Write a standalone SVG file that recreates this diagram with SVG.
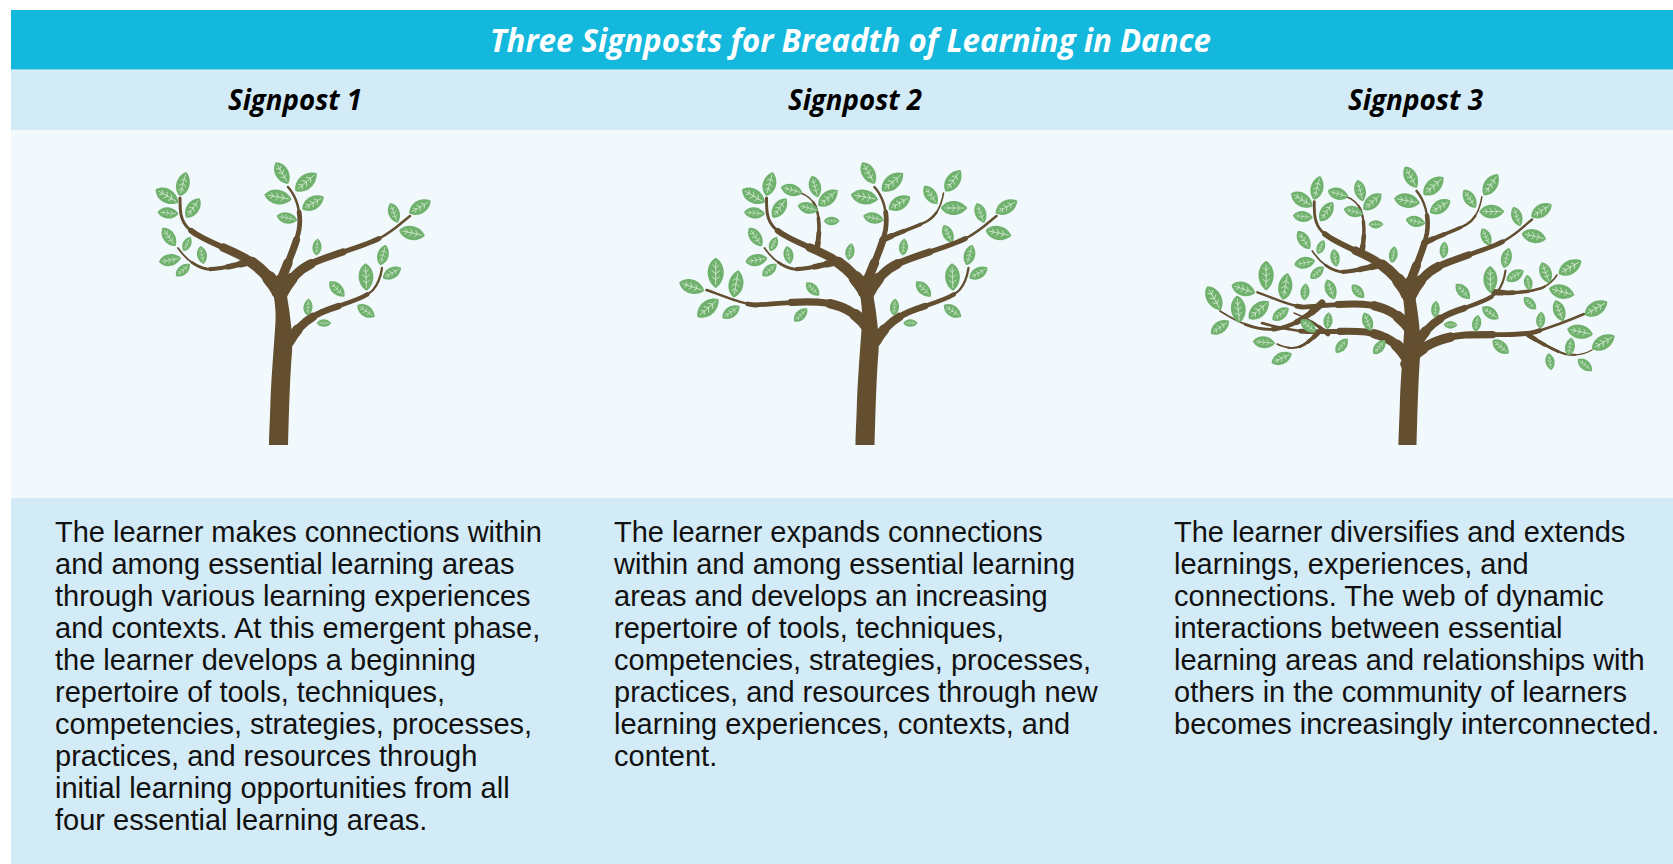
<svg xmlns="http://www.w3.org/2000/svg" xmlns:xlink="http://www.w3.org/1999/xlink" width="1673" height="864" viewBox="0 0 1673 864">
<style>
.body{font-family:"Liberation Sans",Arial,sans-serif;font-size:29px;fill:#111}
.head{font-family:"Open Sans","Noto Sans",sans-serif;font-weight:700;font-style:italic}
.br{fill:none;stroke:#634e30;stroke-linecap:round;stroke-linejoin:round}
.trunk{fill:#634e30}
.d75{stroke-dasharray:75 300}
.d50{stroke-dasharray:50 300}
.d28{stroke-dasharray:28 300}
.d12{stroke-dasharray:12 300}
</style>
<defs>
  <g id="lf" transform="scale(1.1)">
    <path d="M-12,0 C-7,-8.5 6,-8.5 12,0 C6,8.5 -7,8.5 -12,0Z" fill="#6fb16d"/>
    <path d="M-9,0 L9.5,0 M-6.5,-2.6 L-4,0 L-6.5,2.6 M-2,-3.3 L0.5,0 L-2,3.3 M2.8,-3 L5.2,0 L2.8,3" fill="none" stroke="#d6ecd3" stroke-width="0.7"/>
  </g>
  <path id="b1" pathLength="100" d="M279,292 C272,280 262,268 245,258 C228,248 200,240 188,228 C180,220 180,210 180,198"/>
  <path id="b1a" pathLength="100" d="M250,262 C235,265 218,270 207,269 C195,267 185,258 178,248"/>
  <path id="b2" pathLength="100" d="M277,292 C283,272 295,250 299,230 C302,212 296,196 288,187"/>
  <path id="b3" pathLength="100" d="M282,294 C290,278 300,268 315,262 C340,252 365,246 380,238 C395,230 402,222 410,216"/>
  <path id="b4" pathLength="100" d="M289,342 C298,326 310,316 330,309 C350,302 365,298 373,290 C379,283 381,275 382,268"/>
  <path id="e1" pathLength="100" d="M283,330 C272,314 258,306 240,303 C218,300 188,304 169,305 C153,304 138,296 120,290"/>
  <path id="e2" pathLength="100" d="M230,251 C233,236 234,219 229,206 C225,198 220,195 214,193"/>
  <path id="e3" pathLength="100" d="M296,240 C310,233 328,228 341,221 C351,215 355,205 357,193"/>
  <path id="x1" pathLength="100" d="M1322,303 C1310,315 1295,326 1276,329 C1258,331 1240,324 1220,311"/>
  <path id="x2" pathLength="100" d="M1408,360 C1400,346 1390,336 1366,332 C1345,330 1320,333 1300,331 C1285,329 1272,326 1262,323"/>
  <path id="x3" pathLength="100" d="M1328,334 C1318,325 1305,317 1294,313"/>
  <path id="x4" pathLength="100" d="M1318,333 C1308,343 1300,349 1290,348 C1285,347 1281,346 1277,344"/>
  <path id="x5" pathLength="100" d="M1494,292 C1510,294 1530,292 1542,288 C1550,284 1554,280 1557,275"/>
  <path id="x6" pathLength="100" d="M1406,364 C1420,346 1440,337 1465,335 C1495,334 1520,336 1535,332 C1555,326 1570,320 1584,314"/>
  <path id="x7" pathLength="100" d="M1528,335 C1540,342 1552,350 1565,354 C1575,356 1585,354 1592,350"/>

  <g id="core">
    <path class="trunk" d="M269,445 L288,445 C289,410 290,375 292,352 C293,338 291,325 289.5,312 L287,296 L281,287 L275,287 L273,292 C275,302 276,312 275.5,322 C274,345 271.5,375 270.5,400 C270,420 269,435 269,445 Z"/>
    <g class="br">
      <use href="#b1" stroke-width="3"/><use href="#b1" class="d75" stroke-width="5.8"/><use href="#b1" class="d50" stroke-width="8.6"/><use href="#b1" class="d28" stroke-width="11.4"/><use href="#b1" class="d12" stroke-width="14"/>
      <use href="#b1a" stroke-width="1.8"/><use href="#b1a" class="d75" stroke-width="2.9"/><use href="#b1a" class="d50" stroke-width="4.3"/><use href="#b1a" class="d28" stroke-width="5.7"/><use href="#b1a" class="d12" stroke-width="7"/>
      <use href="#b2" stroke-width="2.5"/><use href="#b2" class="d75" stroke-width="4.8"/><use href="#b2" class="d50" stroke-width="7.1"/><use href="#b2" class="d28" stroke-width="9.4"/><use href="#b2" class="d12" stroke-width="11.5"/>
      <use href="#b3" stroke-width="2.5"/><use href="#b3" class="d75" stroke-width="4.8"/><use href="#b3" class="d50" stroke-width="7.1"/><use href="#b3" class="d28" stroke-width="9.4"/><use href="#b3" class="d12" stroke-width="11.5"/>
      <use href="#b4" stroke-width="2.3"/><use href="#b4" class="d75" stroke-width="4.4"/><use href="#b4" class="d50" stroke-width="6.5"/><use href="#b4" class="d28" stroke-width="8.6"/><use href="#b4" class="d12" stroke-width="10.5"/>
    </g>
    <g>
      <use href="#lf" transform="translate(167,196) rotate(30) scale(1)"/>
      <use href="#lf" transform="translate(183,184) rotate(-75) scale(0.95)"/>
      <use href="#lf" transform="translate(193,208) rotate(-55) scale(0.9)"/>
      <use href="#lf" transform="translate(168,213) rotate(5) scale(0.8)"/>
      <use href="#lf" transform="translate(169,237) rotate(55) scale(0.85)"/>
      <use href="#lf" transform="translate(187,244) rotate(-65) scale(0.6)"/>
      <use href="#lf" transform="translate(202,255) rotate(80) scale(0.7)"/>
      <use href="#lf" transform="translate(170,260) rotate(-10) scale(0.85)"/>
      <use href="#lf" transform="translate(183,270) rotate(-40) scale(0.7)"/>
      <use href="#lf" transform="translate(282,173) rotate(60) scale(0.95)"/>
      <use href="#lf" transform="translate(306,182) rotate(-40) scale(1.05)"/>
      <use href="#lf" transform="translate(278,197) rotate(10) scale(1.05)"/>
      <use href="#lf" transform="translate(313,203) rotate(-30) scale(0.95)"/>
      <use href="#lf" transform="translate(287,218) rotate(12) scale(0.8)"/>
      <use href="#lf" transform="translate(317,247) rotate(-85) scale(0.65)"/>
      <use href="#lf" transform="translate(394,213) rotate(70) scale(0.8)"/>
      <use href="#lf" transform="translate(420,207) rotate(-30) scale(0.95)"/>
      <use href="#lf" transform="translate(412,233) rotate(12) scale(1)"/>
      <use href="#lf" transform="translate(383,255) rotate(-75) scale(0.8)"/>
      <use href="#lf" transform="translate(392,273) rotate(-30) scale(0.8)"/>
      <use href="#lf" transform="translate(366,277) rotate(88) scale(1.05)"/>
      <use href="#lf" transform="translate(337,289) rotate(45) scale(0.8)"/>
      <use href="#lf" transform="translate(308,307) rotate(-85) scale(0.65)"/>
      <use href="#lf" transform="translate(324,323) rotate(0) scale(0.55)"/>
      <use href="#lf" transform="translate(366,311) rotate(35) scale(0.8)"/>
    </g>
  </g>

  <g id="ext2">
    <g class="br">
      <use href="#e1" stroke-width="2.5"/><use href="#e1" class="d75" stroke-width="4.8"/><use href="#e1" class="d50" stroke-width="7.1"/><use href="#e1" class="d28" stroke-width="9.4"/><use href="#e1" class="d12" stroke-width="11.5"/>
      <use href="#e2" stroke-width="1.6"/><use href="#e2" class="d75" stroke-width="2.4"/><use href="#e2" class="d50" stroke-width="3.6"/><use href="#e2" class="d28" stroke-width="4.8"/><use href="#e2" class="d12" stroke-width="5.8"/>
      <use href="#e3" stroke-width="1.6"/><use href="#e3" class="d75" stroke-width="2.4"/><use href="#e3" class="d50" stroke-width="3.6"/><use href="#e3" class="d28" stroke-width="4.8"/><use href="#e3" class="d12" stroke-width="5.8"/>
    </g>
    <use href="#lf" transform="translate(205.2,190) rotate(15) scale(0.85)"/>
    <use href="#lf" transform="translate(228.5,186.7) rotate(75) scale(0.85)"/>
    <use href="#lf" transform="translate(241.5,198) rotate(-40) scale(0.95)"/>
    <use href="#lf" transform="translate(221.5,208) rotate(15) scale(0.8)"/>
    <use href="#lf" transform="translate(245.2,221) rotate(0) scale(0.6)"/>
    <use href="#lf" transform="translate(263.5,251.7) rotate(-80) scale(0.65)"/>
    <use href="#lf" transform="translate(344.2,195) rotate(55) scale(0.85)"/>
    <use href="#lf" transform="translate(366.5,180.7) rotate(-55) scale(1)"/>
    <use href="#lf" transform="translate(367.5,208) rotate(0) scale(1)"/>
    <use href="#lf" transform="translate(361.5,234) rotate(65) scale(0.75)"/>
    <use href="#lf" transform="translate(226.2,289) rotate(45) scale(0.7)"/>
    <use href="#lf" transform="translate(144.5,312) rotate(-35) scale(0.8)"/>
    <use href="#lf" transform="translate(121.5,308) rotate(-40) scale(1.05)"/>
    <use href="#lf" transform="translate(105.2,286.7) rotate(18) scale(1)"/>
    <use href="#lf" transform="translate(129.2,273) rotate(90) scale(1.15)"/>
    <use href="#lf" transform="translate(149.5,284) rotate(-80) scale(1.05)"/>
  </g>
</defs>

<rect width="1673" height="864" fill="#ffffff"/>

<g id="title-band">
  <rect x="11" y="10" width="1662" height="60" fill="#15b8dd"/>
  <text class="head" x="490" y="52" font-size="32" fill="#ffffff" textLength="721" lengthAdjust="spacingAndGlyphs">Three Signposts for Breadth of Learning in Dance</text>
</g>
<g id="signpost-band">
  <rect x="11" y="70" width="1662" height="60" fill="#d3ebf6"/>
  <rect x="11" y="69.5" width="1662" height="1" fill="#e9f6fb"/>
  <text class="head" x="228" y="110" font-size="28" fill="#000" textLength="134" lengthAdjust="spacingAndGlyphs">Signpost 1</text>
  <text class="head" x="788" y="110" font-size="28" fill="#000" textLength="134" lengthAdjust="spacingAndGlyphs">Signpost 2</text>
  <text class="head" x="1348" y="110" font-size="28" fill="#000" textLength="135" lengthAdjust="spacingAndGlyphs">Signpost 3</text>
</g>
<g id="tree-area">
  <rect x="11" y="130" width="1662" height="368" fill="#f1f9fd"/>
</g>

<g id="tree1">
  <use href="#core"/>
</g>

<g id="tree2">
  <g transform="translate(586.5,0)">
    <use href="#ext2"/>
    <use href="#core"/>
  </g>
  <use href="#lf" transform="translate(800.7,315) rotate(-45) scale(0.7)"/>
</g>

<g id="tree3">
  <g class="br">
    <use href="#x1" stroke-width="1.8"/><use href="#x1" class="d75" stroke-width="2.9"/><use href="#x1" class="d50" stroke-width="4.3"/><use href="#x1" class="d28" stroke-width="5.7"/><use href="#x1" class="d12" stroke-width="7"/>
    <use href="#x2" stroke-width="2.5"/><use href="#x2" class="d75" stroke-width="4.8"/><use href="#x2" class="d50" stroke-width="7.1"/><use href="#x2" class="d28" stroke-width="9.4"/><use href="#x2" class="d12" stroke-width="11.5"/>
    <use href="#x3" stroke-width="1.4"/><use href="#x3" class="d75" stroke-width="2"/><use href="#x3" class="d50" stroke-width="2.9"/><use href="#x3" class="d28" stroke-width="3.8"/><use href="#x3" class="d12" stroke-width="4.6"/>
    <use href="#x4" stroke-width="1.4"/><use href="#x4" class="d75" stroke-width="2"/><use href="#x4" class="d50" stroke-width="2.9"/><use href="#x4" class="d28" stroke-width="3.8"/><use href="#x4" class="d12" stroke-width="4.6"/>
    <use href="#x5" stroke-width="1.6"/><use href="#x5" class="d75" stroke-width="2.4"/><use href="#x5" class="d50" stroke-width="3.6"/><use href="#x5" class="d28" stroke-width="4.8"/><use href="#x5" class="d12" stroke-width="5.8"/>
    <use href="#x6" stroke-width="2.5"/><use href="#x6" class="d75" stroke-width="4.8"/><use href="#x6" class="d50" stroke-width="7.1"/><use href="#x6" class="d28" stroke-width="9.4"/><use href="#x6" class="d12" stroke-width="11.5"/>
    <use href="#x7" stroke-width="1.4"/><use href="#x7" class="d75" stroke-width="2"/><use href="#x7" class="d50" stroke-width="2.9"/><use href="#x7" class="d28" stroke-width="3.8"/><use href="#x7" class="d12" stroke-width="4.6"/>
  </g>
  <g transform="translate(1407.5,445) scale(0.947,0.985) translate(-278.5,-445)">
    <use href="#ext2"/>
    <use href="#core"/>
  </g>
  <g>
    <use href="#lf" transform="translate(1305,291.7) rotate(-85) scale(0.65)"/>
    <use href="#lf" transform="translate(1330.7,289.3) rotate(70) scale(0.8)"/>
    <use href="#lf" transform="translate(1214,298.3) rotate(60) scale(1.05)"/>
    <use href="#lf" transform="translate(1238.3,309.3) rotate(85) scale(1.05)"/>
    <use href="#lf" transform="translate(1220,327.3) rotate(-35) scale(0.85)"/>
    <use href="#lf" transform="translate(1308.3,326) rotate(40) scale(0.75)"/>
    <use href="#lf" transform="translate(1328,320.7) rotate(-85) scale(0.65)"/>
    <use href="#lf" transform="translate(1367.7,321.7) rotate(70) scale(0.75)"/>
    <use href="#lf" transform="translate(1264,342.3) rotate(5) scale(0.85)"/>
    <use href="#lf" transform="translate(1341.7,345.7) rotate(-50) scale(0.7)"/>
    <use href="#lf" transform="translate(1379.3,347) rotate(-50) scale(0.7)"/>
    <use href="#lf" transform="translate(1281.7,358.3) rotate(-25) scale(0.85)"/>
    <use href="#lf" transform="translate(1476.7,323.3) rotate(-80) scale(0.65)"/>
    <use href="#lf" transform="translate(1528.3,282.7) rotate(80) scale(0.6)"/>
    <use href="#lf" transform="translate(1545.7,272.7) rotate(70) scale(0.85)"/>
    <use href="#lf" transform="translate(1570,267.3) rotate(-30) scale(1)"/>
    <use href="#lf" transform="translate(1561.7,291.7) rotate(15) scale(1)"/>
    <use href="#lf" transform="translate(1530,303.3) rotate(45) scale(0.65)"/>
    <use href="#lf" transform="translate(1559.3,310.7) rotate(70) scale(0.85)"/>
    <use href="#lf" transform="translate(1540.7,320) rotate(-85) scale(0.65)"/>
    <use href="#lf" transform="translate(1596,308.3) rotate(-30) scale(1)"/>
    <use href="#lf" transform="translate(1580,331.7) rotate(12) scale(1)"/>
    <use href="#lf" transform="translate(1603.3,342.3) rotate(-30) scale(1)"/>
    <use href="#lf" transform="translate(1570,346.7) rotate(-80) scale(0.7)"/>
    <use href="#lf" transform="translate(1500.7,346.7) rotate(40) scale(0.8)"/>
    <use href="#lf" transform="translate(1550,361.7) rotate(80) scale(0.65)"/>
    <use href="#lf" transform="translate(1585,365) rotate(40) scale(0.7)"/>
  </g>
</g>

<g id="text-area">
  <rect x="11" y="498" width="1662" height="366" fill="#d3ebf6"/>
</g>

<g id="col1">
  <text class="body" x="55" y="542">
    <tspan x="55" y="542">The learner makes connections within</tspan>
    <tspan x="55" y="574">and among essential learning areas</tspan>
    <tspan x="55" y="606">through various learning experiences</tspan>
    <tspan x="55" y="638">and contexts. At this emergent phase,</tspan>
    <tspan x="55" y="670">the learner develops a beginning</tspan>
    <tspan x="55" y="702">repertoire of tools, techniques,</tspan>
    <tspan x="55" y="734">competencies, strategies, processes,</tspan>
    <tspan x="55" y="766">practices, and resources through</tspan>
    <tspan x="55" y="798">initial learning opportunities from all</tspan>
    <tspan x="55" y="830">four essential learning areas.</tspan>
  </text>
</g>
<g id="col2">
  <text class="body" x="614" y="542">
    <tspan x="614" y="542">The learner expands connections</tspan>
    <tspan x="614" y="574">within and among essential learning</tspan>
    <tspan x="614" y="606">areas and develops an increasing</tspan>
    <tspan x="614" y="638">repertoire of tools, techniques,</tspan>
    <tspan x="614" y="670">competencies, strategies, processes,</tspan>
    <tspan x="614" y="702">practices, and resources through new</tspan>
    <tspan x="614" y="734">learning experiences, contexts, and</tspan>
    <tspan x="614" y="766">content.</tspan>
  </text>
</g>
<g id="col3">
  <text class="body" x="1174" y="542">
    <tspan x="1174" y="542">The learner diversifies and extends</tspan>
    <tspan x="1174" y="574">learnings, experiences, and</tspan>
    <tspan x="1174" y="606">connections. The web of dynamic</tspan>
    <tspan x="1174" y="638">interactions between essential</tspan>
    <tspan x="1174" y="670">learning areas and relationships with</tspan>
    <tspan x="1174" y="702">others in the community of learners</tspan>
    <tspan x="1174" y="734">becomes increasingly interconnected.</tspan>
  </text>
</g>
</svg>
